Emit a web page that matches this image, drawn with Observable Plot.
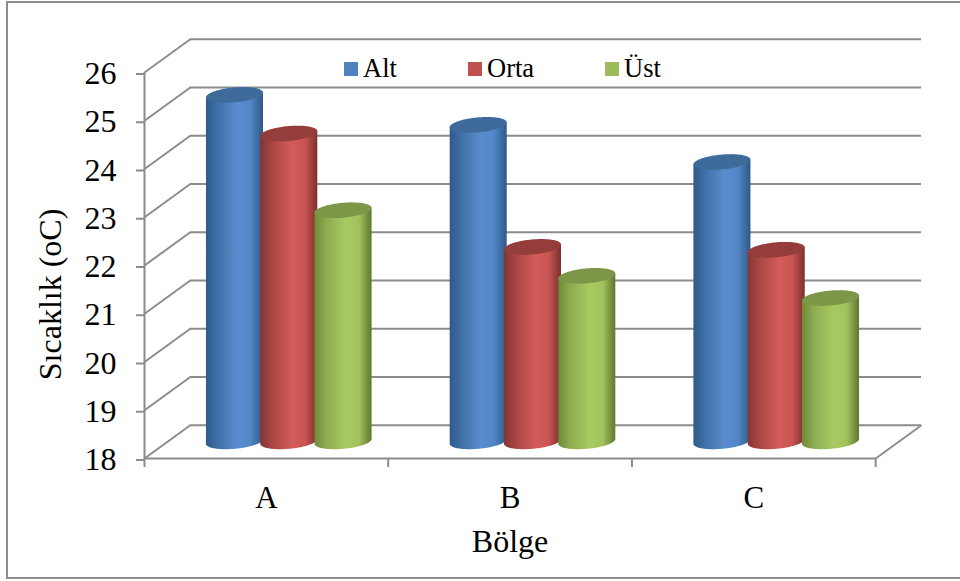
<!DOCTYPE html>
<html lang="tr">
<head>
<meta charset="utf-8">
<script src="https://cdn.jsdelivr.net/npm/d3@7"></script>
<script src="https://cdn.jsdelivr.net/npm/@observablehq/plot@0.6"></script>
<style>
  html, body { margin: 0; padding: 0; background: #fff; }
  #chart { position: relative; width: 960px; height: 581px; overflow: hidden; font-family: "Liberation Serif", serif; }
  #chart svg { display: block; position: absolute; left: 0; top: 0; }
  #frame { position: absolute; left: 6px; top: 1px; width: 980px; height: 574px; border: 2px solid #8c8c8c; box-sizing: content-box; pointer-events: none; }
  #legend { position: absolute; left: 0; top: 0; font-size: 26.5px; color: #000; }
  #legend span { position: absolute; white-space: nowrap; line-height: 30px; top: 53px; }
  #legend i { position: absolute; top: 62px; width: 14px; height: 14px; }
</style>
</head>
<body>
<div id="chart"><div id="frame"></div></div>
<script>
// Water temperature by region and layer
const regions = ["A", "B", "C"];
const layers = ["Alt", "Orta", "Üst"];
const altValues = [25.18, 24.56, 23.79];
const ortaValues = [24.38, 22.03, 21.97];
const ustValues = [22.79, 21.43, 20.97];
const yTicks = [18, 19, 20, 21, 22, 23, 24, 25, 26];
const layerValues = [altValues, ortaValues, ustValues];

// Per-layer shading of the cylinder side and lid
const swatches = ["#4f81bd", "#c0504d", "#9bbb59"];
const sideStops = [
  ["#2f5a8b", "#3f6fa6", "#5a8dcd", "#5286c6", "#2f5887"],
  ["#843533", "#a84644", "#d25c59", "#c95552", "#7a312f"],
  ["#6f8a38", "#8dab50", "#a9ca62", "#a2c25c", "#5f7730"]
];
const lidColors = ["#3f6b9b", "#943d3b", "#7b9747"];

// Oblique projection: how far the back wall sits from the front edge, in scale units
const depthX = 0.188;
const depthY = 0.69;
const base = yTicks[0];
const top_ = yTicks[yTicks.length - 1];
const nCats = regions.length;

// Cylinder cross-section, in scale units; samples bunch up at the rim so the ends stay round
const seriesStep = 0.2228;
const halfWidth = 0.117;
const lidHalfHeight = 0.155;
const lidSkew = 0.05;
const angles = d3.range(0, 61).map((i) => -Math.cos((Math.PI * i) / 60));
const rim = (u) => lidHalfHeight * Math.sqrt(Math.max(0, 1 - u * u));

function centerOf(cat, layer) {
  return cat + 0.5 + depthX / 2 + (layer - 1) * seriesStep;
}
function sideShape(cat, layer, value) {
  const c = centerOf(cat, layer);
  return angles.map((u) => ({
    x: c + u * halfWidth,
    y1: base + depthY / 2 + lidSkew * u - rim(u),
    y2: value + depthY / 2 + lidSkew * u
  }));
}
function lidShape(cat, layer, value) {
  const c = centerOf(cat, layer);
  return angles.map((u) => ({
    x: c + u * halfWidth,
    y1: value + depthY / 2 + lidSkew * u - rim(u),
    y2: value + depthY / 2 + lidSkew * u + rim(u)
  }));
}

// Horizontal gradients that give the sides their rounded look
function gradients() {
  const defs = d3.create("svg:defs");
  sideStops.forEach((stops, i) => {
    const g = defs.append("linearGradient")
      .attr("id", "side-" + i)
      .attr("x1", 0).attr("x2", 1).attr("y1", 0).attr("y2", 0);
    [0, 0.2, 0.55, 0.78, 1].forEach((o, k) => {
      g.append("stop").attr("offset", o).attr("stop-color", stops[k]);
    });
  });
  return defs.node();
}

const gridStroke = "#8c8c8c";
const gridWidth = 2;

const cylinders = regions.flatMap((_, cat) =>
  layers.flatMap((__, layer) => {
    const v = layerValues[layer][cat];
    return [
      Plot.areaY(sideShape(cat, layer, v), { x: "x", y1: "y1", y2: "y2", fill: `url(#side-${layer})` }),
      Plot.areaY(lidShape(cat, layer, v), { x: "x", y1: "y1", y2: "y2", fill: lidColors[layer] })
    ];
  })
);

const plot = Plot.plot({
  width: 960,
  height: 581,
  marginLeft: 144,
  marginRight: 39,
  marginTop: 38.7,
  marginBottom: 123,
  style: { fontFamily: '"Liberation Serif", serif', background: "transparent", color: "#000" },
  x: { domain: [0, nCats + depthX] },
  y: { domain: [base, top_ + depthY] },
  marks: [
    gradients,
    // back wall grid and the side wall running down to the front edge
    Plot.ruleY(yTicks, { y: (d) => d + depthY, x1: depthX, x2: nCats + depthX, stroke: gridStroke, strokeWidth: gridWidth }),
    Plot.link(yTicks, { x1: 0, y1: (d) => d, x2: depthX, y2: (d) => d + depthY, stroke: gridStroke, strokeWidth: gridWidth }),
    Plot.link([nCats], { x1: (d) => d, y1: base, x2: (d) => d + depthX, y2: base + depthY, stroke: gridStroke, strokeWidth: gridWidth }),
    Plot.ruleX([0], { y1: base, y2: top_, stroke: gridStroke, strokeWidth: gridWidth }),
    Plot.ruleY([base], { x1: 0, x2: nCats, stroke: gridStroke, strokeWidth: gridWidth }),
    ...cylinders,
    Plot.axisY({
      ticks: yTicks, tickSize: 8, tickPadding: 20, fontSize: 32, dy: 1.5, label: null,
      stroke: gridStroke, strokeWidth: gridWidth, fill: "#000"
    }),
    Plot.axisX({
      ticks: d3.range(nCats + 1), tickSize: 9, tickFormat: () => "", label: null,
      stroke: gridStroke, strokeWidth: gridWidth
    }),
    Plot.axisX({
      ticks: regions.map((_, i) => i + 0.5), tickSize: 0, tickPadding: 27, fontSize: 31, label: null,
      tickFormat: (d) => regions[d - 0.5], fill: "#000"
    }),
    Plot.text(["Sıcaklık (oC)"], {
      frameAnchor: "left", dx: -94, y: 21.4, rotate: -90, fontSize: 32, fill: "#000", textAnchor: "middle"
    }),
    Plot.text(["Bölge"], {
      frameAnchor: "bottom", x: nCats / 2, dy: 93, fontSize: 32, fill: "#000", textAnchor: "middle"
    })
  ]
});

const chart = document.getElementById("chart");
chart.prepend(plot);

// Legend floats over the top of the back wall
const legend = document.createElement("div");
legend.id = "legend";
const legendX = [344, 468, 605];
layers.forEach((name, i) => {
  const box = document.createElement("i");
  box.style.left = legendX[i] + "px";
  box.style.background = swatches[i];
  const label = document.createElement("span");
  label.style.left = (legendX[i] + 19) + "px";
  label.textContent = name;
  legend.append(box, label);
});
chart.append(legend);
</script>
</body>
</html>
